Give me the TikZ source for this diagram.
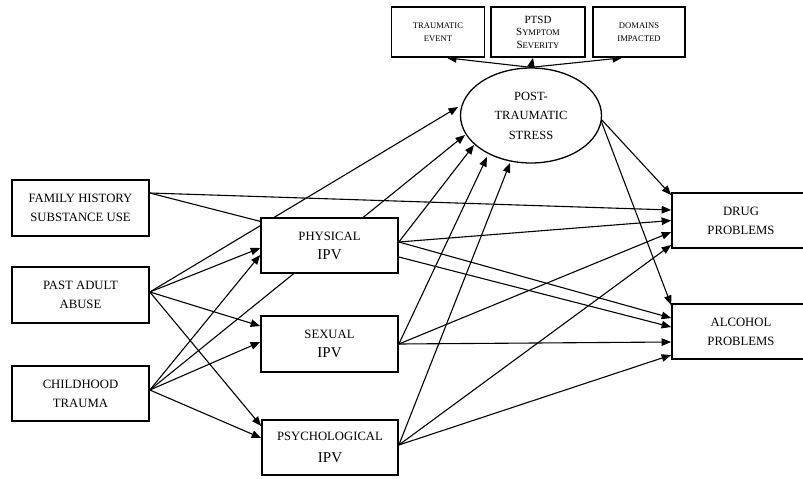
\documentclass[tikz,border=0pt]{standalone}
\usepackage{fontspec}
\setmainfont{Liberation Serif}
\usetikzlibrary{arrows.meta,backgrounds,shapes.geometric}
\tikzset{
  box/.style={draw, line width=1.7pt, fill=white, minimum width=137pt, minimum height=55pt,
    inner sep=0pt, align=center, font=\fontsize{12.7}{19}\selectfont},
  topbox/.style={draw, line width=1.7pt, fill=white, minimum height=50pt, inner sep=0pt,
    align=center, font=\fontsize{8.6}{12.5}\selectfont},
  conn/.style={line width=1.1pt, -{Triangle[length=9.5pt,width=7.5pt]}},
}
\newcommand{\ipvtext}{{\fontsize{15}{19}\selectfont IPV}}
\newcommand{\bigS}{{\fontsize{11}{12.5}\selectfont S}}
\begin{document}
\begin{tikzpicture}[x=1pt,y=-1pt]
\useasboundingbox (0,0) rectangle (803,479);
\clip (0,0) rectangle (803,479);
% top boxes
\node[topbox, minimum width=93pt] (te) at (438,32) {TRAUMATIC\\EVENT};
\node[topbox, minimum width=94pt] (ptsd) at (538,32) {{\fontsize{11}{12.5}\selectfont PTSD}\\\bigS YMPTOM\\\bigS EVERITY};
\node[topbox, minimum width=92pt] (dom) at (639,32) {DOMAINS\\IMPACTED};
% ellipse
\node[ellipse, draw, line width=1.3pt, fill=white, minimum width=141pt, minimum height=95pt,
  inner sep=0pt, align=center, font=\fontsize{12.5}{19.5}\selectfont] (pts) at (531,115.5) {POST-\\TRAUMATIC\\STRESS};
% left boxes
\node[box, minimum height=56pt] (fh) at (80.5,208) {FAMILY HISTORY\\SUBSTANCE USE};
\node[box, minimum height=56pt] (paa) at (80.5,295) {PAST ADULT\\ABUSE};
\node[box] (ct) at (80.5,393.5) {CHILDHOOD\\TRAUMA};
% middle boxes
\node[box] (phys) at (329.5,245.5) {PHYSICAL\\\ipvtext};
\node[box, minimum height=56pt] (sex) at (329.5,344) {SEXUAL\\\ipvtext};
\node[box, minimum width=136pt, font=\fontsize{12.7}{22}\selectfont] (psy) at (330,447.5) {PSYCHOLOGICAL\\{\fontsize{15}{22}\selectfont IPV}};
% right boxes
\node[box, minimum width=138pt] (drug) at (741,220.5) {DRUG\\PROBLEMS};
\node[box, minimum width=138pt] (alc) at (741,331.5) {ALCOHOL\\PROBLEMS};

\begin{scope}[on background layer]
\fill[white] (0,0) rectangle (803,479);
% PTS to indicators
\draw[conn] (pts.north) -- ([xshift=9pt]te.south);
\draw[conn] (pts.north) -- ([xshift=-5pt]ptsd.south);
\draw[conn] (pts.north) -- ([xshift=-17pt]dom.south);
% family history
\draw[conn] ([yshift=15pt]fh.east) -- ([yshift=10.5pt]drug.west);
\draw[conn] ([yshift=15pt]fh.east) -- ([yshift=4.5pt]alc.west);
% past adult abuse
\draw[conn] ([yshift=3pt]paa.east) -- ([shift={(-73,-8.5)}]pts.center);
\draw[conn] ([yshift=3pt]paa.east) -- ([yshift=-2.5pt]phys.west);
\draw[conn] ([yshift=3pt]paa.east) -- ([yshift=18pt]sex.west);
\draw[conn] ([yshift=3pt]paa.east) -- ([yshift=21.5pt]psy.west);
% childhood trauma
\draw[conn] ([yshift=3.5pt]ct.east) -- ([shift={(-66,19.5)}]pts.center);
\draw[conn] ([yshift=3.5pt]ct.east) -- ([yshift=-9.5pt]phys.west);
\draw[conn] ([yshift=3.5pt]ct.east) -- ([yshift=2pt]sex.west);
\draw[conn] ([yshift=3.5pt]ct.east) -- ([yshift=9.5pt]psy.west);
% physical
\draw[conn] ([yshift=3.5pt]phys.east) -- ([shift={(-57,29.5)}]pts.center);
\draw[conn] ([yshift=3.5pt]phys.east) -- (drug.west);
\draw[conn] ([yshift=3.5pt]phys.east) -- ([yshift=13.5pt]alc.west);
% sexual
\draw[conn] (sex.east) -- ([shift={(-44,41.5)}]pts.center);
\draw[conn] (sex.east) -- ([yshift=-11.5pt]drug.west);
\draw[conn] (sex.east) -- ([yshift=-10.5pt]alc.west);
% psychological
\draw[conn] ([yshift=2.5pt]psy.east) -- ([shift={(-21,47.5)}]pts.center);
\draw[conn] ([yshift=2.5pt]psy.east) -- ([yshift=-24.5pt]drug.west);
\draw[conn] ([yshift=2.5pt]psy.east) -- ([yshift=-23.5pt]alc.west);
% PTS outcomes
\draw[conn] ([shift={(69,2.5)}]pts.center) -- ([yshift=25.5pt]drug.west);
\draw[conn] ([shift={(69,2.5)}]pts.center) -- ([yshift=26.5pt]alc.west);
\end{scope}
\end{tikzpicture}
\end{document}
